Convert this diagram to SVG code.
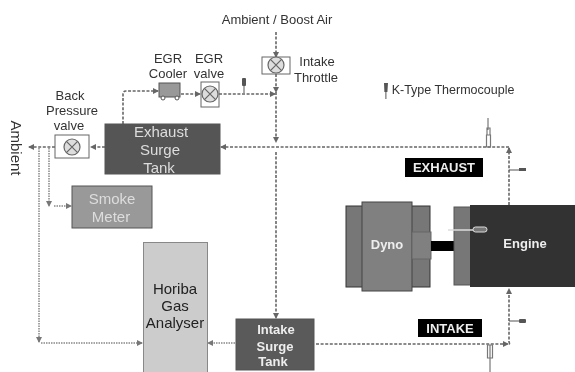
<svg xmlns="http://www.w3.org/2000/svg" width="575" height="372" viewBox="0 0 575 372">
<style>
text{font-family:"Liberation Sans",Arial,sans-serif;text-anchor:middle}
.d{font-size:13px;fill:#333}
.w{font-size:15px;fill:#ddd}
.b{font-size:13px;font-weight:bold;fill:#eee}
.box{stroke:#555;stroke-width:1}
.v{fill:#fff;stroke:#666;stroke-width:1}
.x{fill:#ddd;stroke:#666;stroke-width:1.2}
.dash{fill:none;stroke:#666;stroke-width:1.6;stroke-dasharray:3 1.6}
.dot{fill:none;stroke:#888;stroke-width:1.5;stroke-dasharray:1.5 1}
.tc{fill:none;stroke:#777;stroke-width:1.2}
</style>
<defs>
<filter id="soft" x="0" y="0" width="100%" height="100%"><feGaussianBlur stdDeviation="0.45"/></filter>
<marker id="a" markerWidth="7" markerHeight="7" refX="5" refY="3" orient="auto" markerUnits="userSpaceOnUse"><path d="M0 0L6 3L0 6Z" fill="#666"/></marker>
<marker id="g" markerWidth="7" markerHeight="7" refX="5" refY="3" orient="auto" markerUnits="userSpaceOnUse"><path d="M0 0L6 3L0 6Z" fill="#777"/></marker>
<g id="vx"><circle r="8" class="x"/><path d="M-5.6-5.6L5.6 5.6M-5.6 5.6L5.6-5.6" stroke="#666" stroke-width="1.2"/></g>
</defs>
<g filter="url(#soft)">
<g id="connectors">
<path class="dash" d="M276 32V57" marker-end="url(#a)"/>
<path class="dash" d="M276 74V92" marker-end="url(#a)"/>
<path class="dash" d="M276 92V142" marker-end="url(#a)"/>
<path class="dash" d="M276 152V318" marker-end="url(#a)"/>
<path class="dash" d="M219 94H275" marker-end="url(#a)"/>
<path class="dash" d="M181 94H200" marker-end="url(#a)"/>
<path class="dash" d="M123 124V94Q123 91 126 91H158" marker-end="url(#a)"/>
<path class="dash" d="M509 147H221" marker-end="url(#a)"/>
<path class="dash" d="M509 205V148" marker-end="url(#a)"/>
<path class="dash" d="M105 147H91" marker-end="url(#a)"/>
<path class="dash" d="M55 147H29" marker-end="url(#a)"/>
<path class="dot" d="M39 148V342" marker-end="url(#g)"/>
<path class="dot" d="M49 148V206" marker-end="url(#g)"/>
<path class="dot" d="M54 206H71" marker-end="url(#g)"/>
<path class="dot" d="M41 343H142" marker-end="url(#g)"/>
<path class="dot" d="M235 343H208" marker-end="url(#g)"/>
<path class="dash" d="M316 344H508" marker-end="url(#a)"/>
<path class="dash" d="M509 344Q510 344 509 342V289" marker-end="url(#a)"/>
</g>
<g id="back-pressure-valve">
<rect class="v" x="55" y="135" width="34" height="23"/><use href="#vx" x="72" y="147"/>
<text class="d" x="70" y="100">Back</text><text class="d" x="72" y="115">Pressure</text><text class="d" x="69" y="130">valve</text>
</g>
<g id="exhaust-surge-tank">
<rect class="box" x="105" y="124" width="115" height="50" fill="#555"/>
<text class="w" x="161" y="137">Exhaust</text><text class="w" x="160" y="155">Surge</text><text class="w" x="159" y="173">Tank</text>
</g>
<g id="egr-cooler">
<rect x="159" y="83" width="21" height="14" fill="#999" stroke="#555"/>
<circle cx="163" cy="98" r="2" fill="#fff" stroke="#555"/><circle cx="177" cy="98" r="2" fill="#fff" stroke="#555"/>
<text class="d" x="168" y="63">EGR</text><text class="d" x="168" y="78">Cooler</text>
</g>
<g id="egr-valve">
<rect class="v" x="201" y="82" width="18" height="25"/><use href="#vx" x="210" y="94"/>
<text class="d" x="209" y="63">EGR</text><text class="d" x="209" y="78">valve</text>
</g>
<g id="intake-throttle">
<rect class="v" x="262" y="57" width="28" height="17"/><use href="#vx" x="276" y="65"/>
<text class="d" x="317" y="66">Intake</text><text class="d" x="316" y="82">Throttle</text>
</g>
<text class="d" x="277" y="24">Ambient / Boost Air</text>
<text class="d" transform="translate(11 148) rotate(90)" style="font-size:15px">Ambient</text>
<g id="legend">
<path d="M384 83h4l-.6 9h-1v7h-1v-7h-1z" fill="#555"/>
<text class="d" x="453" y="94" style="font-size:12.500px">K-Type Thermocouple</text>
</g>
<g id="smoke-meter">
<rect class="box" x="72" y="186" width="80" height="42" fill="#999"/>
<text class="w" x="112" y="204">Smoke</text><text class="w" x="111" y="222">Meter</text>
</g>
<g id="horiba-gas-analyser">
<rect x="143.500" y="242.500" width="64" height="131" fill="#ccc" stroke="#888"/>
<text x="175" y="294" style="font-size:15px" fill="#222">Horiba</text><text x="175" y="311" style="font-size:15px" fill="#222">Gas</text><text x="175" y="328" style="font-size:15px" fill="#222">Analyser</text>
</g>
<g id="intake-surge-tank">
<rect class="box" x="236" y="319" width="78" height="51" fill="#5a5a5a"/>
<text class="b" x="276" y="334">Intake</text><text class="b" x="275" y="351">Surge</text><text class="b" x="273" y="366">Tank</text>
</g>
<g id="dyno">
<rect x="346" y="206" width="84" height="81" fill="#777" stroke="#333"/>
<rect x="362" y="202" width="50" height="89" fill="#808080" stroke="#444"/>
<rect x="412" y="232" width="19" height="27" fill="#808080" stroke="#666"/>
<rect x="431" y="241" width="24" height="10" fill="#000"/>
<text class="b" x="387" y="249">Dyno</text>
</g>
<g id="engine">
<rect x="454" y="207" width="17" height="78" fill="#777" stroke="#555"/>
<rect x="470" y="205" width="105" height="82" fill="#333"/>
<path d="M448 230H474" stroke="#ddd" stroke-width="1.500"/>
<rect x="473" y="227" width="14" height="5" rx="2.500" fill="#777" stroke="#ddd"/>
<text class="b" x="525" y="248">Engine</text>
</g>
<g id="thermocouples">
<path d="M488 118V130M486.500 135V147H490.500V135ZM487 128H490V135H487Z" class="tc"/>
<path d="M509 170H522" stroke="#555"/><rect x="519" y="168" width="7" height="3" fill="#555"/>
<path d="M509 321H522" stroke="#555"/><rect x="519" y="319" width="7" height="4" rx="1" fill="#555"/>
<path d="M490 345V372M487.500 345V358H492.500V345Z" class="tc"/>
<path d="M244 79V93" stroke="#555"/><rect x="242" y="78" width="4" height="8" rx="1" fill="#555"/>
</g>
<g id="labels">
<rect x="405" y="158" width="78" height="19" fill="#000"/><text class="b" x="444" y="172">EXHAUST</text>
<rect x="418" y="319" width="64" height="18" fill="#000"/><text class="b" x="450" y="333">INTAKE</text>
</g>
</g>
</svg>
